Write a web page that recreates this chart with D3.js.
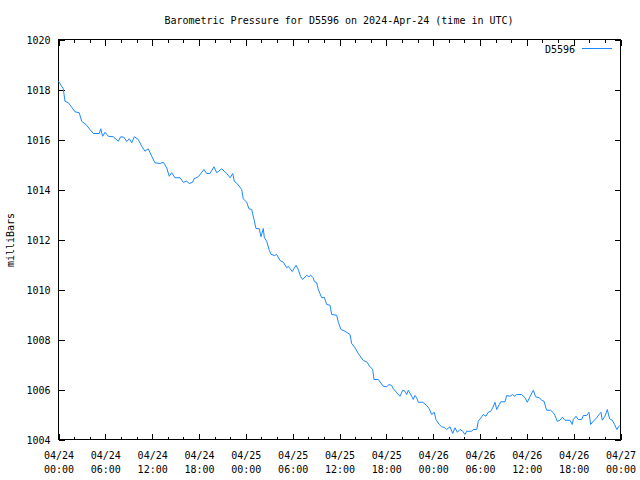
<!DOCTYPE html>
<html>
<head>
<meta charset="utf-8">
<script src="https://cdn.jsdelivr.net/npm/d3@7"></script>
<style>
  body { margin: 0; background: #fff; }
  svg { display: block; }
  text { font-family: "DejaVu Sans Mono", "Liberation Mono", monospace; font-size: 10px; fill: #000; }
</style>
</head>
<body>
<svg id="chart" width="640" height="480"></svg>
<script>
// ---- data ----
const title = "Barometric Pressure for D5596 on 2024-Apr-24 (time in UTC)";
const seriesName = "D5596";
const yLabel = "milliBars";
const startTime = "2024-04-24T00:00:00Z";
// hours since 2024-04-24 00:00 UTC
const hours = [
  0.0, 0.61, 0.83, 1.26, 1.69, 2.11, 2.66, 2.97, 3.52, 4.04, 4.46, 5.23, 5.41, 5.66, 5.96,
  6.38, 7.02, 7.66, 7.97, 8.39, 8.74, 9.07, 9.38, 9.71, 10.22, 10.66, 11.08, 11.5, 11.94,
  12.36, 13.0, 13.43, 13.86, 14.19, 14.5, 14.92, 15.57, 15.99, 16.42, 16.76, 17.19, 17.36,
  17.91, 18.64, 18.99, 19.41, 19.92, 20.27, 20.91, 21.55,
  21.98, 22.32, 22.52, 22.91, 23.25, 23.47, 23.67, 24.11, 24.4, 24.75, 25.05, 25.3, 25.72,
  25.94, 26.24, 26.37, 26.67, 27.01, 27.22, 27.65, 27.95, 28.38, 28.8, 29.23, 29.44, 29.95,
  30.43, 30.72, 31.03, 31.28, 31.8, 32.09, 32.31, 32.64, 32.77, 33.08, 33.28, 33.72, 34.05,
  34.36, 34.78, 35.0, 35.64, 35.85, 36.19, 36.7, 37.34, 37.56, 37.98, 38.41, 39.05, 39.48,
  39.91, 40.25, 40.42, 40.97, 41.61, 42.05, 42.34, 42.69, 42.89,
  43.75, 44.1, 44.39, 44.61, 44.81, 45.25, 45.45, 45.67, 45.89, 46.09, 46.66, 47.17, 47.5,
  47.81, 48.14, 48.36, 48.78, 49.09, 49.51, 49.73, 50.16, 50.5, 50.8, 51.09, 51.44, 51.78,
  52.08, 52.29, 52.93, 53.14, 53.58, 53.78, 54.22, 54.42, 54.77, 55.06, 55.37, 55.63, 55.92,
  56.14, 56.47, 56.65, 57.2, 57.42, 57.84, 58.19, 58.39, 58.7, 59.34, 59.76, 60.06, 60.4,
  60.83, 61.13, 61.6, 61.9, 62.2, 62.54, 63.06, 63.39, 63.61, 63.9, 64.25, 64.54, 64.89,
  65.53, 65.82, 65.95, 66.3, 66.59, 67.03, 67.23, 67.67, 67.96, 68.18, 68.51, 68.95, 69.24,
  69.5, 69.66, 70.01, 70.31, 70.6, 70.95, 71.24, 71.53, 71.87
];
const pressure = [
  1018.33, 1018.03, 1017.53, 1017.47, 1017.29, 1017.11, 1017.07, 1016.73, 1016.6, 1016.4, 1016.24, 1016.24, 1016.43, 1016.13, 1016.29,
  1016.13, 1016.11, 1015.93, 1016.11, 1016.09, 1015.92, 1016.03, 1015.87, 1016.11, 1016.0, 1015.73, 1015.53, 1015.63, 1015.33,
  1015.07, 1015.04, 1015.09, 1014.87, 1014.53, 1014.67, 1014.47, 1014.47, 1014.29, 1014.33, 1014.24, 1014.29, 1014.43,
  1014.51, 1014.8, 1014.64, 1014.64, 1014.91, 1014.67, 1014.83, 1014.64,
  1014.47, 1014.64, 1014.33, 1014.23, 1014.09, 1014.0, 1013.63, 1013.49, 1013.23, 1013.2, 1012.8, 1012.44, 1012.43,
  1012.11, 1012.44, 1012.07, 1011.93, 1011.57, 1011.41, 1011.36, 1011.4, 1011.16, 1011.09, 1010.87, 1010.93, 1010.72,
  1010.97, 1010.8, 1010.51, 1010.4, 1010.57, 1010.51, 1010.57, 1010.47, 1010.32, 1010.27, 1010.0, 1009.67, 1009.69,
  1009.4, 1009.37, 1009.0, 1008.97, 1008.69, 1008.4, 1008.33, 1008.2, 1007.84, 1007.67, 1007.44, 1007.16, 1007.11,
  1006.91, 1006.8, 1006.4, 1006.4, 1006.13, 1006.11, 1006.2, 1006.16, 1006.03,
  1005.73, 1005.97, 1005.93, 1005.8, 1005.97, 1005.73, 1005.6, 1005.76, 1005.67, 1005.49, 1005.49, 1005.36, 1005.23,
  1005.0, 1005.09, 1004.8, 1004.6, 1004.51, 1004.47, 1004.4, 1004.51, 1004.24, 1004.47, 1004.29, 1004.4, 1004.33,
  1004.2, 1004.33, 1004.33, 1004.4, 1004.4, 1004.73, 1004.91, 1005.0, 1004.93, 1005.09, 1005.13, 1005.27, 1005.49,
  1005.2, 1005.4, 1005.51, 1005.51, 1005.76, 1005.73, 1005.8, 1005.73, 1005.8, 1005.8, 1005.67, 1005.49, 1005.71,
  1005.97, 1005.71, 1005.67, 1005.57, 1005.53, 1005.17, 1005.17, 1005.07, 1004.96, 1004.73, 1004.77, 1004.89, 1004.77,
  1004.77, 1004.6, 1004.8, 1004.93, 1004.8, 1004.8, 1004.96, 1004.96, 1005.09, 1004.6, 1004.73, 1004.87, 1005.0,
  1005.09, 1004.77, 1004.93, 1005.2, 1004.83, 1004.77, 1004.6, 1004.4, 1004.56
];
const yTicks = [1004, 1006, 1008, 1010, 1012, 1014, 1016, 1018, 1020];
const xTickHours = [0, 6, 12, 18, 24, 30, 36, 42, 48, 54, 60, 66, 72];
const xMinorHours = d3.range(0, 73, 2);

// ---- layout ----
const svg = d3.select("#chart");
const L = 58.5, R = 620.5, T = 39.5, B = 439.5;
const t0 = new Date(startTime);
const toDate = h => new Date(t0.getTime() + h * 3600000);

const x = d3.scaleUtc().domain([toDate(0), toDate(72)]).range([L, R]);
const y = d3.scaleLinear().domain([1004, 1020]).range([B, T]);

const fmtDate = d3.utcFormat("%m/%d");
const fmtTime = d3.utcFormat("%H:%M");

// title
svg.append("text").attr("x", 339).attr("y", 24).attr("text-anchor", "middle").text(title);

// y label
svg.append("text").attr("transform", "translate(14,240) rotate(-90)")
  .attr("text-anchor", "middle").text(yLabel);

const axisStyle = g => {
  g.selectAll("path, line").attr("stroke", "#000").attr("shape-rendering", "crispEdges");
  g.select(".domain").remove();
};

// minor x ticks (bottom + top)
svg.append("g").attr("transform", `translate(0,${B})`)
  .call(d3.axisBottom(x).tickValues(xMinorHours.map(toDate)).tickSize(-3).tickFormat(""))
  .call(axisStyle);
svg.append("g").attr("transform", `translate(0,${T})`)
  .call(d3.axisTop(x).tickValues(xMinorHours.map(toDate)).tickSize(-3).tickFormat(""))
  .call(axisStyle);

// major x ticks bottom with two-line labels
const gx = svg.append("g").attr("transform", `translate(0,${B})`)
  .call(d3.axisBottom(x).tickValues(xTickHours.map(toDate)).tickSize(-6).tickFormat(""))
  .call(axisStyle);
gx.selectAll(".tick").each(function(d) {
  const t = d3.select(this).append("text").attr("text-anchor", "middle").attr("fill", "#000");
  t.append("tspan").attr("x", 0).attr("y", 19).text(fmtDate(d));
  t.append("tspan").attr("x", 0).attr("y", 33).text(fmtTime(d));
});
svg.append("g").attr("transform", `translate(0,${T})`)
  .call(d3.axisTop(x).tickValues(xTickHours.map(toDate)).tickSize(-6).tickFormat(""))
  .call(axisStyle);

// y axis left + right
const gy = svg.append("g").attr("transform", `translate(${L},0)`)
  .call(d3.axisLeft(y).tickValues(yTicks).tickSize(-6).tickPadding(8).tickFormat(d3.format("d")))
  .call(axisStyle);
gy.selectAll("text").attr("font-family", null).attr("font-size", null).attr("dy", "0.35em");
svg.append("g").attr("transform", `translate(${R},0)`)
  .call(d3.axisRight(y).tickValues(yTicks).tickSize(-6).tickFormat(""))
  .call(axisStyle);

// frame
svg.append("rect").attr("x", L).attr("y", T).attr("width", R - L).attr("height", B - T)
  .attr("fill", "none").attr("stroke", "#000").attr("shape-rendering", "crispEdges");

// line
const color = "#1a88ff";
const data = hours.map((h, i) => ({ t: toDate(h), v: pressure[i] }));
svg.append("path").datum(data)
  .attr("fill", "none").attr("stroke", color).attr("stroke-width", 1)
  .attr("d", d3.line().x(d => x(d.t)).y(d => y(d.v)));

// legend
svg.append("text").attr("x", 575).attr("y", 49).attr("dy", "0.35em")
  .attr("text-anchor", "end").text(seriesName);
svg.append("line").attr("x1", 582).attr("x2", 612).attr("y1", 48.5).attr("y2", 48.5)
  .attr("stroke", color).attr("stroke-width", 1);
</script>
</body>
</html>
